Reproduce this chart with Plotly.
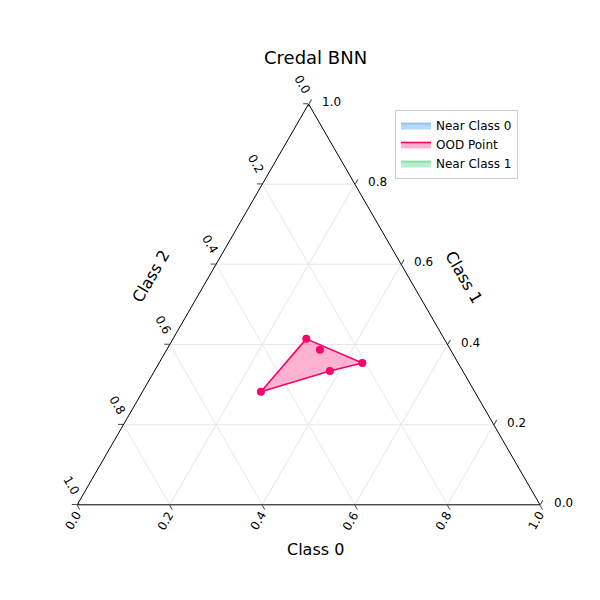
import plotly.graph_objects as go

# credal set vertices (class 0, class 1, class 2)
ood_c0 = [0.288, 0.331, 0.439, 0.379, 0.256]
ood_c1 = [0.414, 0.387, 0.354, 0.334, 0.282]
ood_c2 = [0.298, 0.282, 0.207, 0.287, 0.462]
hull = [0, 2, 3, 4, 0]

near0 = dict(c0=[0.0], c1=[1.0], c2=[0.0])
near1 = dict(c0=[0.0], c1=[0.0], c2=[1.0])

ticks = [0, 0.2, 0.4, 0.6, 0.8, 1.0]

fig = go.Figure()
fig.add_trace(go.Scatterternary(a=near0['c1'], b=near0['c2'], c=near0['c0'], mode='lines',
    fill='toself', fillcolor='rgba(100,170,235,0.45)', line=dict(color='rgba(100,170,235,0.6)'),
    name='Near Class 0'))
fig.add_trace(go.Scatterternary(a=[ood_c1[i] for i in hull], b=[ood_c2[i] for i in hull],
    c=[ood_c0[i] for i in hull], mode='lines', fill='toself', fillcolor='rgba(255,0,102,0.3)',
    line=dict(color='#ff0066', width=1.6), name='OOD Point'))
fig.add_trace(go.Scatterternary(a=near1['c1'], b=near1['c2'], c=near1['c0'], mode='lines',
    fill='toself', fillcolor='rgba(80,210,130,0.4)', line=dict(color='rgba(80,210,130,0.6)'),
    name='Near Class 1'))
fig.add_trace(go.Scatterternary(a=ood_c1, b=ood_c2, c=ood_c0, mode='markers',
    marker=dict(color='#ff0066', size=8), showlegend=False))
fig.add_trace(go.Scatterternary(a=near0['c1'], b=near0['c2'], c=near0['c0'], mode='markers',
    marker=dict(color='#1f77d4', size=5), showlegend=False))
fig.add_trace(go.Scatterternary(a=near1['c1'], b=near1['c2'], c=near1['c0'], mode='markers',
    marker=dict(color='#2ecc71', size=5), showlegend=False))

ax = dict(title='', tickvals=ticks, showticklabels=False, ticks='outside', ticklen=5,
          linecolor='black', linewidth=1, gridcolor='#e8e8e8')

# tick labels placed clockwise like the reference (triangle corners in pixels)
L, R, T = (77, 503), (540, 503), (308, 102)
dy = 8  # compensate rendering offset
ann = []
for t in ticks:
    s = f'{t:.1f}'
    x, y = L[0] + (R[0] - L[0]) * t, L[1]
    ann.append(dict(text=s, x=(x - 12) / 600, y=1 - (y + 18 - dy) / 600, textangle=-60))
    x, y = R[0] + (T[0] - R[0]) * t, R[1] + (T[1] - R[1]) * t
    ann.append(dict(text=s, x=(x + 15) / 600, y=1 - (y - dy) / 600, textangle=0))
    x, y = T[0] + (L[0] - T[0]) * t, T[1] + (L[1] - T[1]) * t
    ann.append(dict(text=s, x=(x - 14) / 600, y=1 - (y - 18 - dy) / 600, textangle=60))
for a in ann:
    a.update(font=dict(size=12))

ann += [
    dict(text='Credal BNN', x=0.513, y=1 - (57 - dy) / 600, font=dict(size=18)),
    dict(text='Class 0', x=0.513, y=1 - (549 - dy) / 600, font=dict(size=16)),
    dict(text='Class 1', x=455 / 600, y=1 - (277 - dy) / 600, textangle=60, font=dict(size=16)),
    dict(text='Class 2', x=143 / 600, y=1 - (277 - dy) / 600, textangle=-60, font=dict(size=16)),
]
for a in ann:
    a.update(xref='paper', yref='paper', showarrow=False, xanchor='center', yanchor='middle')

fig.update_layout(
    width=600, height=600, margin=dict(l=0, r=0, t=0, b=0),
    paper_bgcolor='white', font=dict(family='DejaVu Sans', color='black'),
    ternary=dict(sum=1, bgcolor='white', domain=dict(x=[0.115, 0.887], y=[0.172, 0.84]),
                 aaxis=ax, baxis=ax, caxis=ax),
    legend=dict(x=0.645, y=0.83, xanchor='left', yanchor='top', bordercolor='#ccc', borderwidth=1,
                font=dict(size=12)),
    annotations=ann,
)
fig.write_html("out.html")
